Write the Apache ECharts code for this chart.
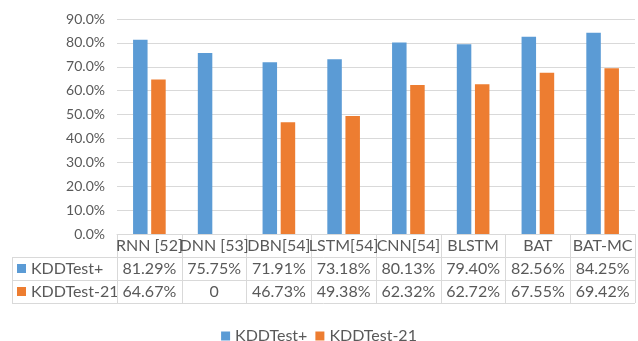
<!DOCTYPE html>
<html>
<head>
<meta charset="utf-8">
<script src="https://cdn.jsdelivr.net/npm/echarts@6/dist/echarts.min.js"></script>
<style>
  html, body { margin: 0; padding: 0; background: #fff; }
  #chart { width: 638px; height: 341px; }
</style>
</head>
<body>
<div id="chart"></div>
<script>
// Detection accuracy of each model on the two NSL-KDD test sets (%)
const categories = ['RNN [52]', 'DNN [53]', 'DBN[54]', 'LSTM[54]', 'CNN[54]', 'BLSTM', 'BAT', 'BAT-MC'];
const kddTestPlus = [81.29, 75.75, 71.91, 73.18, 80.13, 79.40, 82.56, 84.25];
const kddTest21 = [64.67, 0, 46.73, 49.38, 62.32, 62.72, 67.55, 69.42];
const seriesNames = ['KDDTest+', 'KDDTest-21'];
const yTicks = { min: 0, max: 90, interval: 10 };

const BLUE = '#5b9bd5';
const ORANGE = '#ed7d31';
const TEXT = '#595959';
const LINE = '#d9d9d9';
const FONT = 'Lato';

// plot box
const G = { left: 117, right: 3, top: 19, bottom: 107 };
const W = 638, H = 341;
const axisY = H - G.bottom;        // y of the 0% line / top of the data table
const rowH = 23;                    // height of one table row
const tableLeft = 12;

function cellText(v) {
  return v === 0 ? '0' : v.toFixed(2) + '%';
}

function tableAxis(values, margin, showLine) {
  return {
    type: 'category',
    data: categories,
    gridIndex: 0,
    position: 'bottom',
    offset: 0,
    axisLine: { show: showLine, lineStyle: { color: LINE, width: 1 } },
    axisTick: showLine
      ? { show: true, alignWithLabel: false, length: rowH * 3, lineStyle: { color: LINE, width: 1 } }
      : { show: false },
    axisLabel: {
      margin: margin,
      verticalAlign: 'middle',
      color: TEXT,
      fontFamily: FONT,
      fontSize: 16,
      interval: 0,
      formatter: values ? (v, i) => cellText(values[i]) : (v) => v
    },
    splitLine: { show: false }
  };
}

const chart = echarts.init(document.getElementById('chart'), null, { renderer: 'canvas' });

// table rules and row headers
const graphics = [];
for (let r = 1; r <= 3; r++) {
  graphics.push({
    type: 'line',
    shape: { x1: tableLeft, y1: axisY + rowH * r + 0.5, x2: W - G.right, y2: axisY + rowH * r + 0.5 },
    style: { stroke: LINE, lineWidth: 1 },
    silent: true
  });
}
graphics.push({
  type: 'line',
  shape: { x1: tableLeft + 0.5, y1: axisY + rowH, x2: tableLeft + 0.5, y2: axisY + rowH * 3 },
  style: { stroke: LINE, lineWidth: 1 },
  silent: true
});
[BLUE, ORANGE].forEach((c, i) => {
  const cy = axisY + rowH * (i + 1) + rowH / 2;
  graphics.push({
    type: 'rect',
    shape: { x: 17, y: cy - 4.5, width: 9, height: 9 },
    style: { fill: c },
    silent: true
  });
  graphics.push({
    type: 'text',
    x: 31, y: cy,
    style: { text: seriesNames[i], fill: TEXT, font: '16px ' + FONT, textVerticalAlign: 'middle', textAlign: 'left' },
    silent: true
  });
});

chart.setOption({
  animation: false,
  backgroundColor: '#fff',
  textStyle: { fontFamily: FONT },
  grid: { left: G.left, right: G.right, top: G.top, bottom: G.bottom, containLabel: false, outerBoundsMode: 'none' },
  legend: {
    data: seriesNames,
    top: 323,
    left: 'center',
    icon: 'rect',
    itemWidth: 9,
    itemHeight: 9,
    itemGap: 8,
    textStyle: { color: TEXT, fontFamily: FONT, fontSize: 16 }
  },
  xAxis: [
    tableAxis(null, 12, true),
    tableAxis(kddTestPlus, 12 + rowH, false),
    tableAxis(kddTest21, 12 + rowH * 2, false)
  ],
  yAxis: {
    type: 'value',
    min: yTicks.min,
    max: yTicks.max,
    interval: yTicks.interval,
    axisLine: { show: false },
    axisTick: { show: false },
    axisLabel: {
      margin: 12,
      color: TEXT,
      fontFamily: FONT,
      fontSize: 14,
      formatter: (v) => v.toFixed(1) + '%'
    },
    splitLine: { lineStyle: { color: LINE, width: 1 } }
  },
  series: [
    {
      name: seriesNames[0],
      type: 'bar',
      xAxisIndex: 0,
      data: kddTestPlus,
      barWidth: 14.5,
      barGap: '25%',
      itemStyle: { color: BLUE }
    },
    {
      name: seriesNames[1],
      type: 'bar',
      xAxisIndex: 0,
      data: kddTest21,
      barWidth: 14.5,
      barGap: '25%',
      itemStyle: { color: ORANGE }
    }
  ],
  graphic: graphics
});
</script>
</body>
</html>
